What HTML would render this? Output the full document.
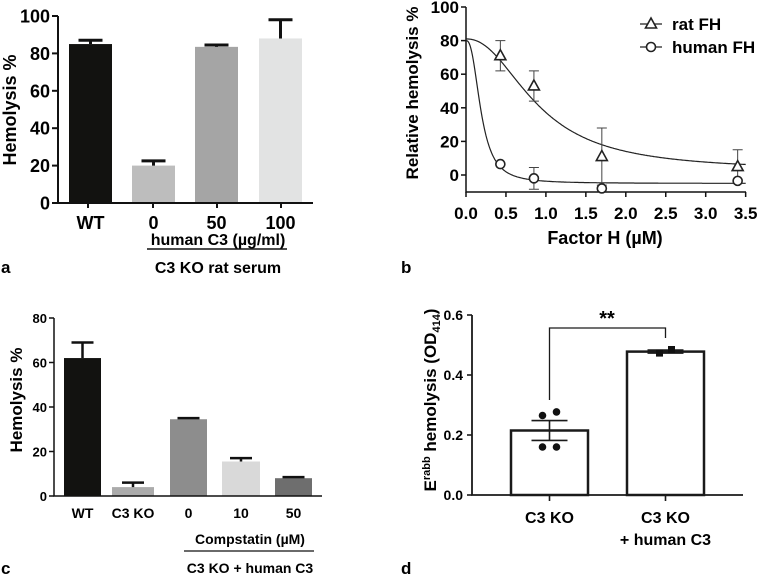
<!DOCTYPE html>
<html><head><meta charset="utf-8"><style>
html,body{margin:0;padding:0;background:#fff}
svg{display:block;font-family:"Liberation Sans",Arial,sans-serif;font-weight:bold}
</style></head><body>
<svg id="fig" width="758" height="581" viewBox="0 0 758 581" xmlns="http://www.w3.org/2000/svg">
<g id="pa"></g>
<g id="pb"></g>
<g id="pc"></g>
<g id="pd"></g>
</svg>
<script>
// Panel a data
const aCats = ["WT","0","50","100"];
const aVals = [85, 20, 83.5, 88];
const aErr = [2, 2.5, 1, 10];
const aTicks = [0,20,40,60,80,100];
// Panel b data
const bX = [0.43, 0.85, 1.7, 3.4];
const bRat = [71, 53, 11, 5];
const bRatErr = [9, 9, 17, 10];
const bHum = [6.5, -2, -8, -3.5];
const bHumErr = [0, 6.5, 0, 0];
const bRatFit = [81, 2.5, 0.9, 2.2];   // top, bottom, IC50, hill
const bHumFit = [80, -5, 0.19, 2.5];
const bYTicks = [0,20,40,60,80,100];
const bXTicks = [0,0.5,1,1.5,2,2.5,3,3.5];
// Panel c data
const cCats = ["WT","C3 KO","0","10","50"];
const cVals = [62, 4, 34.5, 15.5, 8];
const cErr = [7, 2, 0.5, 1.5, 0.5];
const cTicks = [0,20,40,60,80];
// Panel d data
const dCats = ["C3 KO","C3 KO"];
const dVals = [0.215, 0.478];
const dSem = [0.033, 0.005];
const dPts1 = [0.265, 0.277, 0.16, 0.16];
const dPts2 = [0.473, 0.485];
const dTicks = [0, 0.2, 0.4, 0.6];

const NS="http://www.w3.org/2000/svg";
function mk(p,tag,at,txt){const e=document.createElementNS(NS,tag);for(const k in at)e.setAttribute(k,at[k]);if(txt!==undefined)e.textContent=txt;p.appendChild(e);return e;}

// ---------- Panel a ----------
(function(){
const g=document.getElementById('pa');
const y=v=>203-v*1.87;
const bx=[69,132,195,259], bw=43, cols=["#121210","#bdbdbd","#a5a5a5","#e2e3e3"];
aVals.forEach((v,i)=>{
 const r=mk(g,'rect',{x:bx[i],y:y(v),width:bw,height:203-y(v),fill:cols[i]});
 
 
 const cx=bx[i]+bw/2;
 const e=mk(g,'path',{d:`M${cx},${y(v)}V${y(v+aErr[i])}M${cx-12},${y(v+aErr[i])}H${cx+12}`,stroke:"#111","stroke-width":3,fill:"none"});
 
 
 const t=mk(g,'text',{x:cx,y:229,"text-anchor":"middle","font-size":18},aCats[i]);
 
 
});
mk(g,'path',{d:"M58,16V203H313",stroke:"#111","stroke-width":2,fill:"none"});
aTicks.forEach(v=>{
 mk(g,'line',{x1:52,x2:58,y1:y(v),y2:y(v),stroke:"#111","stroke-width":2});
 const t=mk(g,'text',{x:50,y:y(v)+6.5,"text-anchor":"end","font-size":18},v);
 
 
});
[[88,196],[153,216],[217,236],[281,300]].forEach(p=>mk(g,'line',{x1:p[0],x2:p[0],y1:203,y2:208,stroke:"#111","stroke-width":2}));
const yt=mk(g,'text',{transform:"translate(16,110) rotate(-90)","text-anchor":"middle","font-size":18},"Hemolysis %");

mk(g,'text',{x:218,y:245,"text-anchor":"middle","font-size":16},"human C3 (µg/ml)");
mk(g,'line',{x1:147,x2:287,y1:249,y2:249,stroke:"#111","stroke-width":1.5});
mk(g,'text',{x:218,y:273,"text-anchor":"middle","font-size":16},"C3 KO rat serum");
mk(g,'text',{x:1,y:273,"font-size":17},"a");
})();

// ---------- Panel b ----------
(function(){
const g=document.getElementById('pb');
const x=v=>466+v*79.9, y=v=>175-v*1.68;
mk(g,'path',{d:"M466,7V192H746",stroke:"#111","stroke-width":1.5,fill:"none"});
bYTicks.forEach(v=>{mk(g,'line',{x1:461,x2:466,y1:y(v),y2:y(v),stroke:"#111","stroke-width":1.5});
 const t=mk(g,'text',{x:459,y:y(v)+6,"text-anchor":"end","font-size":17},v);
 });
bXTicks.forEach(v=>{mk(g,'line',{x1:x(v),x2:x(v),y1:192,y2:197,stroke:"#111","stroke-width":1.5});
 const t=mk(g,'text',{x:x(v),y:219,"text-anchor":"middle","font-size":17},v.toFixed(1));
 });
function curve(p,name){let d="";for(let i=0;i<=350;i++){const xv=i/100;const yv=p[1]+(p[0]-p[1])/(1+Math.pow(xv/p[2],p[3]));d+=(i?"L":"M")+x(xv).toFixed(1)+","+y(yv).toFixed(1);}
 const c=mk(g,'path',{d:d,stroke:"#222","stroke-width":1.2,fill:"none"});
 }
curve(bRatFit,'rat-fh-fit');curve(bHumFit,'human-fh-fit');
function errs(vals,err){vals.forEach((v,i)=>{if(!err[i])return;const cx=x(bX[i]);
 mk(g,'path',{d:`M${cx},${y(v-err[i])}V${y(v+err[i])}M${cx-5},${y(v+err[i])}H${cx+5}M${cx-5},${y(v-err[i])}H${cx+5}`,stroke:"#444","stroke-width":1,fill:"none"});});}
errs(bRat,bRatErr);errs(bHum,bHumErr);
function tri(cx,cy){return `M${cx},${cy-6}L${cx+5.5},${cy+4}L${cx-5.5},${cy+4}Z`;}
bRat.forEach((v,i)=>{const m=mk(g,'path',{d:tri(x(bX[i]),y(v)),fill:"#fff",stroke:"#222","stroke-width":1.6});
 });
bHum.forEach((v,i)=>{const m=mk(g,'circle',{cx:x(bX[i]),cy:y(v),r:4.5,fill:"#fff",stroke:"#222","stroke-width":1.6});
 });
const l1=mk(g,'g',{});
mk(l1,'line',{x1:640,x2:662,y1:24,y2:24,stroke:"#222","stroke-width":1.2});
mk(l1,'path',{d:tri(651,24),fill:"#fff",stroke:"#222","stroke-width":1.6});
mk(l1,'text',{x:672,y:30,"font-size":17},"rat FH");
const l2=mk(g,'g',{});
mk(l2,'line',{x1:640,x2:662,y1:47,y2:47,stroke:"#222","stroke-width":1.2});
mk(l2,'circle',{cx:651,cy:47,r:4.5,fill:"#fff",stroke:"#222","stroke-width":1.6});
mk(l2,'text',{x:672,y:53,"font-size":17},"human FH");
const yt=mk(g,'text',{transform:"translate(418,93) rotate(-90)","text-anchor":"middle","font-size":17},"Relative hemolysis %");

const xt=mk(g,'text',{x:605,y:244,"text-anchor":"middle","font-size":18},"Factor H (µM)");

mk(g,'text',{x:401,y:273,"font-size":17},"b");
})();

// ---------- Panel c ----------
(function(){
const g=document.getElementById('pc');
const y=v=>496-v*2.225;
const bx=[64,112,170,222,275], bw=[37,42,37,38,37], cols=["#121210","#ababab","#8d8d8d","#d9d9d9","#6e6e6e"];
cVals.forEach((v,i)=>{
 const r=mk(g,'rect',{x:bx[i],y:y(v),width:bw[i],height:496-y(v),fill:cols[i]});
 
 
 const cx=bx[i]+bw[i]/2;
 mk(g,'path',{d:`M${cx},${y(v)}V${y(v+cErr[i])}M${cx-11},${y(v+cErr[i])}H${cx+11}`,stroke:"#111","stroke-width":2.5,fill:"none"});
 const t=mk(g,'text',{x:cx,y:518,"text-anchor":"middle","font-size":14},cCats[i]);
 
});
mk(g,'path',{d:"M54,318V496H322",stroke:"#111","stroke-width":1.5,fill:"none"});
cTicks.forEach(v=>{mk(g,'line',{x1:49,x2:54,y1:y(v),y2:y(v),stroke:"#111","stroke-width":1.5});
 const t=mk(g,'text',{x:47,y:y(v)+5,"text-anchor":"end","font-size":13},v);
 });
const yt=mk(g,'text',{transform:"translate(22,400) rotate(-90)","text-anchor":"middle","font-size":17},"Hemolysis %");

mk(g,'text',{x:250,y:544,"text-anchor":"middle","font-size":14},"Compstatin  (µM)");
mk(g,'line',{x1:184,x2:314,y1:551,y2:551,stroke:"#111","stroke-width":1.2});
mk(g,'text',{x:250,y:573,"text-anchor":"middle","font-size":14},"C3 KO + human C3");
mk(g,'text',{x:1,y:574,"font-size":17},"c");
})();

// ---------- Panel d ----------
(function(){
const g=document.getElementById('pd');
const y=v=>495-v*300;
const bx=[511,627], bw=77;
dVals.forEach((v,i)=>{
 const r=mk(g,'rect',{x:bx[i],y:y(v),width:bw,height:495-y(v),fill:"#fff",stroke:"#1a1a1a","stroke-width":2.5});
 
 
 const cx=bx[i]+bw/2;
 mk(g,'path',{d:`M${cx},${y(v-dSem[i])}V${y(v+dSem[i])}M${cx-18},${y(v+dSem[i])}H${cx+18}M${cx-18},${y(v-dSem[i])}H${cx+18}`,stroke:"#1a1a1a","stroke-width":1.6,fill:"none"});
 mk(g,'line',{x1:cx,x2:cx,y1:495,y2:501,stroke:"#1a1a1a","stroke-width":1.6});
 const t=mk(g,'text',{x:cx,y:523,"text-anchor":"middle","font-size":16},dCats[i]);
 
});
const off1=[-7,7,-7,7];
dPts1.forEach((v,i)=>{const c=mk(g,'circle',{cx:549.5+off1[i],cy:y(v),r:3.8,fill:"#111"});
 });
const off2=[-6,6];
dPts2.forEach((v,i)=>{const c=mk(g,'rect',{x:665.5+off2[i]-3.5,y:y(v)-3.5,width:7,height:7,fill:"#111"});
 });
mk(g,'text',{x:665.5,y:545,"text-anchor":"middle","font-size":16},"+ human C3");
mk(g,'path',{d:"M472,315V495H743",stroke:"#1a1a1a","stroke-width":1.8,fill:"none"});
dTicks.forEach(v=>{mk(g,'line',{x1:467,x2:472,y1:y(v),y2:y(v),stroke:"#1a1a1a","stroke-width":1.6});
 const t=mk(g,'text',{x:463,y:y(v)+5,"text-anchor":"end","font-size":14},v.toFixed(1));
 });
const br=mk(g,'path',{d:"M549.5,400V328H665.5V338",stroke:"#1a1a1a","stroke-width":1.3,fill:"none"});

mk(g,'text',{x:607,y:325,"text-anchor":"middle","font-size":20},"**");
const yt=mk(g,'text',{transform:"translate(436,400) rotate(-90)","text-anchor":"middle","font-size":17});

yt.innerHTML='E<tspan dy="-6" font-size="11">rabb</tspan><tspan dy="6"> hemolysis (OD</tspan><tspan dy="4" font-size="11">414</tspan><tspan dy="-4">)</tspan>';
mk(g,'text',{x:401,y:574,"font-size":17},"d");
})();
</script>
</body></html>
